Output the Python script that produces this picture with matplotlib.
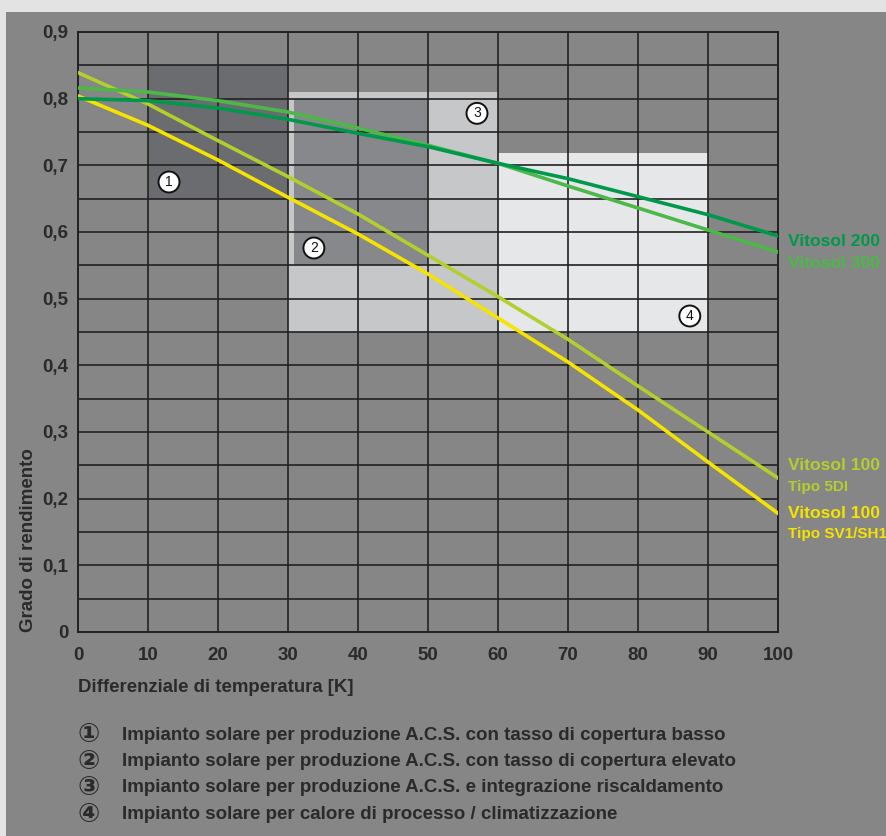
import numpy as np
import matplotlib.pyplot as plt
from matplotlib.patches import Rectangle

plt.rcParams['font.family'] = ['Liberation Sans', 'DejaVu Sans']
plt.rcParams['font.weight'] = 'bold'

# Dati
dT = [0, 10, 20, 30, 40, 50, 60, 70, 80, 90, 100]
vitosol_200 = [0.800, 0.797, 0.786, 0.769, 0.748, 0.728, 0.703, 0.680, 0.653, 0.626, 0.594]
vitosol_300 = [0.816, 0.810, 0.797, 0.780, 0.756, 0.730, 0.703, 0.669, 0.636, 0.603, 0.570]
vitosol_100_5di = [0.839, 0.792, 0.737, 0.683, 0.627, 0.565, 0.503, 0.439, 0.369, 0.300, 0.231]
vitosol_100_sv1 = [0.804, 0.760, 0.708, 0.652, 0.597, 0.537, 0.471, 0.405, 0.333, 0.255, 0.178]

# campi di impiego: (x0, x1, y0, y1)
zone_1 = (10, 30, 0.65, 0.85)
zone_2 = (30.8, 50, 0.55, 0.80)
zone_3 = (30, 60, 0.45, 0.81)
zone_4 = (60, 90, 0.45, 0.718)

legenda = [
    'Impianto solare per produzione A.C.S. con tasso di copertura basso',
    'Impianto solare per produzione A.C.S. con tasso di copertura elevato',
    'Impianto solare per produzione A.C.S. e integrazione riscaldamento',
    'Impianto solare per calore di processo / climatizzazione',
]
numeri = ['\u2460', '\u2461', '\u2462', '\u2463']

W, H = 887, 836
fig = plt.figure(figsize=(W / 100, H / 100), dpi=100)
fig.patch.set_facecolor('#e3e3e3')
fig.patches.append(Rectangle((6 / W, 0), 1, 1 - 12 / H, transform=fig.transFigure,
                             facecolor='#858685', edgecolor='none', zorder=-5))

ax = fig.add_axes([78 / W, 204 / H, 700 / W, 600 / H])
ax.set_facecolor('#858685')
ax.set_xlim(0, 100)
ax.set_ylim(0, 0.9)

def zona(z, col, zo):
    ax.add_patch(Rectangle((z[0], z[2]), z[1] - z[0], z[3] - z[2],
                           facecolor=col, edgecolor='none', zorder=zo))

zona(zone_1, '#6b6c70', 1)
zona(zone_3, '#c6c7c9', 1)
zona(zone_2, '#87888c', 1.1)
zona(zone_4, '#e6e7e9', 1)

# griglia
for x in range(0, 101, 10):
    ax.axvline(x, color='#222222', lw=1.2, zorder=2)
for y in np.arange(0, 0.91, 0.05):
    ax.axhline(y, color='#222222', lw=1.2, zorder=2)
for s in ax.spines.values():
    s.set_color('#222222')
    s.set_linewidth(1.4)

ax.plot(dT, vitosol_100_sv1, color='#f5e400', lw=2.6, zorder=3)
ax.plot(dT, vitosol_100_5di, color='#b3cf2e', lw=2.6, zorder=3)
ax.plot(dT, vitosol_300, color='#4cb848', lw=2.6, zorder=3)
ax.plot(dT, vitosol_200, color='#00984a', lw=2.6, zorder=3)

# numeri nelle zone
for txt, (x, y) in zip(['1', '2', '3', '4'], [(13, 0.675), (33.7, 0.576), (57, 0.778), (87.4, 0.474)]):
    ax.text(x, y, txt, ha='center', va='center', fontsize=10, fontweight='normal', color='#111111',
            zorder=4, bbox=dict(boxstyle='circle,pad=0.25', fc='white', ec='#111111', lw=1.4))

ax.set_xticks(range(0, 101, 10))
ax.set_yticks(np.arange(0, 0.91, 0.1))
ax.set_yticklabels(['0'] + [f'0,{i}' for i in range(1, 10)])
ax.tick_params(length=0, labelsize=13.5, labelcolor='#2a2a2a')
ax.tick_params(axis='x', pad=11)
ax.tick_params(axis='y', pad=7)
for lab in ax.get_xticklabels() + ax.get_yticklabels():
    lab.set_fontweight('bold')

ax.set_ylabel('Grado di rendimento', fontsize=13.5, color='#2a2a2a', fontweight='bold', loc='bottom', labelpad=4)
fig.text(78 / W, 1 - 688 / H, 'Differenziale di temperatura [K]', fontsize=13.4,
         color='#2a2a2a', fontweight='bold', va='center')

# etichette curve
fig.text(788 / W, 1 - 241 / H, 'Vitosol 200', color='#00984a', fontsize=12.6, fontweight='bold', va='center')
fig.text(788 / W, 1 - 263 / H, 'Vitosol 300', color='#4cb848', fontsize=12.6, fontweight='bold', va='center')
fig.text(788 / W, 1 - 466 / H, 'Vitosol 100', color='#b3cf2e', fontsize=12.6, fontweight='bold', va='center')
fig.text(788 / W, 1 - 487 / H, 'Tipo 5DI', color='#b3cf2e', fontsize=11, fontweight='bold', va='center')
fig.text(788 / W, 1 - 514 / H, 'Vitosol 100', color='#f5e400', fontsize=12.6, fontweight='bold', va='center')
fig.text(788 / W, 1 - 534 / H, 'Tipo SV1/SH1', color='#f5e400', fontsize=11, fontweight='bold', va='center')

# legenda in basso
for i, (n, t) in enumerate(zip(numeri, legenda)):
    yy = 1 - (735 + i * 26.5) / H
    fig.text(89 / W, yy, n, fontsize=19, color='#2a2a2a', fontweight='bold', va='center', ha='center',
             family=['DejaVu Sans', 'Noto Sans CJK JP'])
    fig.text(122 / W, yy, t, fontsize=13.5, color='#2a2a2a', fontweight='bold', va='center')

fig.savefig('out.png', dpi=100, facecolor=fig.get_facecolor())
